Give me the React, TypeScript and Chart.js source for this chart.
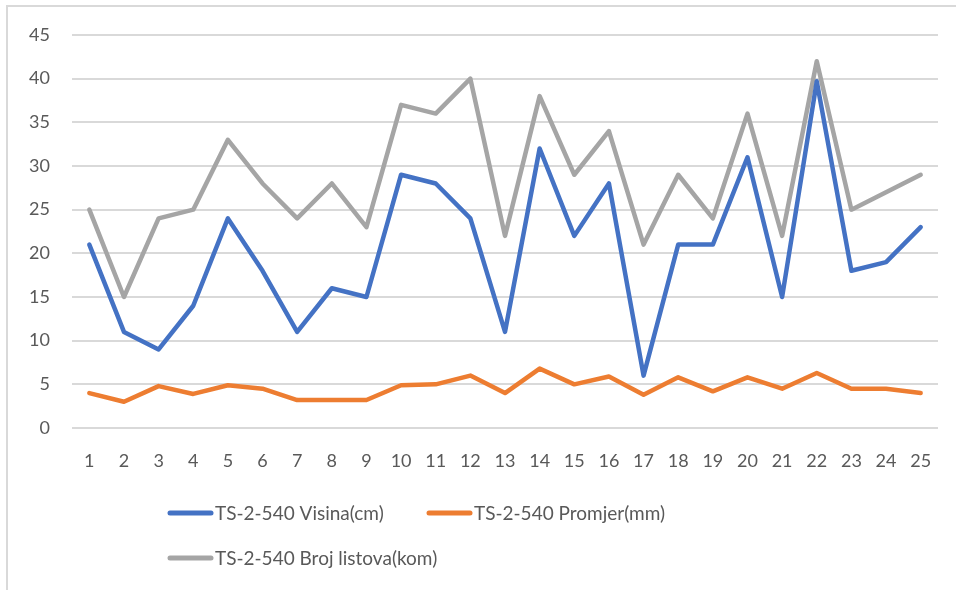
import React, { useEffect, useRef } from "react";
import { Chart, registerables } from "chart.js";

Chart.register(...registerables);

const categories = ["1","2","3","4","5","6","7","8","9","10","11","12","13","14","15","16","17","18","19","20","21","22","23","24","25"];
const visina = [21, 11, 9, 14, 24, 18, 11, 16, 15, 29, 28, 24, 11, 32, 22, 28, 6, 21, 21, 31, 15, 39.7, 18, 19, 23];
const promjer = [4, 3, 4.8, 3.9, 4.9, 4.5, 3.2, 3.2, 3.2, 4.9, 5, 6, 4, 6.8, 5, 5.9, 3.8, 5.8, 4.2, 5.8, 4.5, 6.3, 4.5, 4.5, 4];
const brojListova = [25, 15, 24, 25, 33, 28, 24, 28, 23, 37, 36, 40, 22, 38, 29, 34, 21, 29, 24, 36, 22, 42, 25, 27, 29];
const seriesNames = ["TS-2-540 Visina(cm)", "TS-2-540 Promjer(mm)", "TS-2-540 Broj listova(kom)"];
const seriesColors = ["#4472C4", "#ED7D31", "#A5A5A5"];

const FONT = "Lato, 'Open Sans', sans-serif";
const TEXT = "#595959";

const legendSlots = [
  { x: 168, y: 514 },
  { x: 427, y: 514 },
  { x: 168, y: 559 },
];

const customLegend = {
  id: "customLegend",
  afterDraw(chart: any) {
    const ctx = chart.ctx;
    ctx.save();
    ctx.font = `19px ${FONT}`;
    ctx.textBaseline = "middle";
    ctx.textAlign = "left";
    chart.data.datasets.forEach((ds: any, i: number) => {
      const s = legendSlots[i];
      ctx.strokeStyle = ds.borderColor;
      ctx.lineWidth = 5;
      ctx.lineCap = "round";
      ctx.beginPath();
      ctx.moveTo(s.x + 2, s.y - 1);
      ctx.lineTo(s.x + 43, s.y - 1);
      ctx.stroke();
      ctx.fillStyle = TEXT;
      ctx.fillText(ds.label, s.x + 47, s.y);
    });
    ctx.restore();
  },
};

export default function App() {
  const ref = useRef<HTMLCanvasElement | null>(null);
  useEffect(() => {
    if (!ref.current) return;
    const mk = (label: string, data: number[], color: string) => ({
      label,
      data,
      borderColor: color,
      backgroundColor: color,
      borderWidth: 4.5,
      pointRadius: 0,
      pointHoverRadius: 0,
      tension: 0,
      borderJoinStyle: "round" as const,
      borderCapStyle: "round" as const,
      fill: false,
    });
    const chart = new Chart(ref.current, {
      type: "line",
      data: {
        labels: categories,
        datasets: [
          mk(seriesNames[0], visina, seriesColors[0]),
          mk(seriesNames[1], promjer, seriesColors[1]),
          mk(seriesNames[2], brojListova, seriesColors[2]),
        ],
      },
      options: {
        animation: false,
        responsive: true,
        maintainAspectRatio: false,
        layout: { padding: { top: 35, right: 18, bottom: 118, left: 0 } },
        plugins: {
          legend: { display: false },
          tooltip: { enabled: false },
        },
        scales: {
          x: {
            offset: true,
            grid: { display: false, drawTicks: false },
            border: { display: false },
            ticks: { color: TEXT, font: { family: FONT, size: 18 }, padding: 22, maxRotation: 0, autoSkip: false },
            afterFit: (axis: any) => { axis.height = 44; },
          },
          y: {
            min: 0,
            max: 45,
            grid: { color: "#D9D9D9", lineWidth: 2, drawTicks: false },
            border: { display: false },
            ticks: { stepSize: 5, color: TEXT, font: { family: FONT, size: 18 }, padding: 22 },
            afterFit: (axis: any) => { axis.width = 72; },
          },
        },
      },
      plugins: [customLegend],
    });
    return () => chart.destroy();
  }, []);
  return (
    <div style={{ position: "fixed", left: 0, top: 0, width: 956, height: 590, background: "#fff", overflow: "hidden" }}>
      <div style={{ position: "absolute", left: 6, top: 5, width: 1000, height: 700, borderLeft: "2px solid #D9D9D9", borderTop: "2px solid #D9D9D9" }} />
      <canvas ref={ref} style={{ position: "absolute", left: 0, top: 0 }} />
    </div>
  );
}
